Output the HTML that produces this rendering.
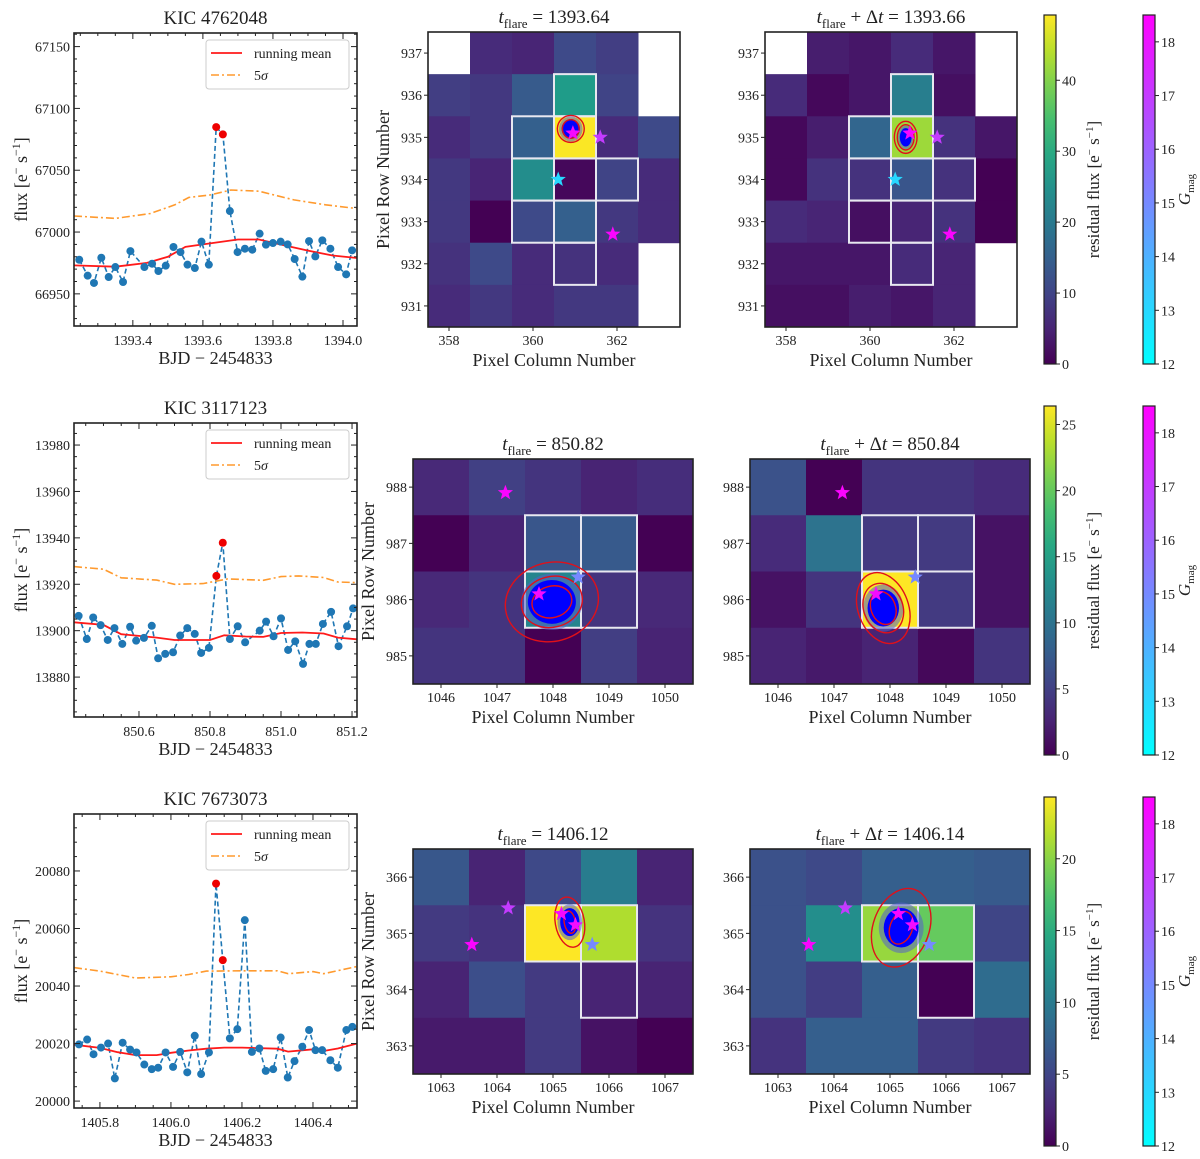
<!DOCTYPE html>
<html><head><meta charset="utf-8"><style>
html,body{margin:0;padding:0;background:#fff;}
svg{display:block;font-family:"Liberation Serif","DejaVu Serif",serif;}
</style></head><body>
<svg id="fig" width="1200" height="1159" viewBox="0 0 1200 1159" xmlns="http://www.w3.org/2000/svg"></svg>
<script>
// ---------- light curve data ----------
const lc1Time=[1393.247,1393.271,1393.289,1393.310,1393.331,1393.350,1393.372,1393.393,1393.433,1393.455,1393.473,1393.494,1393.516,1393.536,1393.556,1393.577,1393.596,1393.617,1393.638,1393.657,1393.677,1393.699,1393.720,1393.741,1393.762,1393.780,1393.800,1393.822,1393.842,1393.862,1393.884,1393.903,1393.921,1393.941,1393.964,1393.986,1394.009,1394.026];
const lc1Flux=[66977.6,66964.7,66958.8,66979.2,66963.6,66971.7,66959.6,66984.6,66971.7,66974.4,66968.5,66972.8,66987.9,66983.8,66973.6,66970.9,66992.2,66973.6,67084.9,67079.0,67017,66983.8,66986.5,66985.7,66998.7,66989.8,66991.1,66992.2,66990,66978.2,66963.9,66992.7,66980.3,66993.3,66986.5,66971.7,66965.8,66985.2];
const lc1Flare=[18,19];
const lc1MeanT=[1393.232,1393.35,1393.44,1393.5,1393.55,1393.6,1393.7,1393.76,1393.82,1393.9,1393.97,1394.04];
const lc1MeanV=[66973,66972,66975,66980,66988,66990,66994,66994,66990,66985,66981,66979];
const lc1SigT=[1393.232,1393.35,1393.45,1393.52,1393.56,1393.62,1393.68,1393.76,1393.86,1393.95,1394.04];
const lc1SigV=[67013,67011,67015,67022,67028,67030,67034,67033,67026,67022,67019];
const lc1XTicks=[1393.4,1393.6,1393.8,1394.0];
const lc1XLabels=["1393.4","1393.6","1393.8","1394.0"];
const lc1YTicks=[66950,67000,67050,67100,67150];

const lc2Time=[850.430,850.453,850.471,850.492,850.512,850.531,850.553,850.575,850.592,850.614,850.636,850.654,850.674,850.696,850.716,850.736,850.757,850.775,850.797,850.818,850.836,850.856,850.878,850.899,850.940,850.958,850.979,851.000,851.020,851.040,851.062,851.080,851.098,851.118,851.141,851.162,851.186,851.203];
const lc2Flux=[13906.4,13896.4,13905.7,13902.4,13896,13901.1,13894.3,13901.7,13895.7,13896.9,13902.1,13888.1,13890,13890.7,13897.9,13901.1,13898.6,13890.4,13892.6,13923.6,13937.9,13896.4,13901.9,13895,13900,13903.9,13897.6,13905.3,13891.7,13895.4,13885.7,13894.3,13894.3,13902.9,13908.1,13893.3,13901.9,13909.6];
const lc2Flare=[19,20];
const lc2MeanT=[850.417,850.5,850.55,850.65,850.7,850.8,850.84,850.9,850.95,851.0,851.06,851.12,851.16,851.214];
const lc2MeanV=[13903.6,13902.5,13898.5,13897,13896,13896,13898,13897.5,13897.3,13899,13899.2,13898.8,13897,13896.3];
const lc2SigT=[850.417,850.5,850.55,850.65,850.7,850.78,850.85,850.95,851.0,851.05,851.12,851.16,851.214];
const lc2SigV=[13927.6,13926.5,13922.8,13921.8,13920,13920.3,13922.3,13921.7,13923.3,13923.6,13922.9,13921,13920.7];
const lc2XTicks=[850.6,850.8,851.0,851.2];
const lc2XLabels=["850.6","850.8","851.0","851.2"];
const lc2YTicks=[13880,13900,13920,13940,13960,13980];

const lc3Time=[1405.741,1405.764,1405.782,1405.803,1405.823,1405.842,1405.864,1405.885,1405.903,1405.925,1405.946,1405.964,1405.985,1406.006,1406.026,1406.046,1406.067,1406.085,1406.107,1406.127,1406.146,1406.166,1406.187,1406.208,1406.228,1406.249,1406.267,1406.288,1406.309,1406.329,1406.348,1406.370,1406.389,1406.407,1406.426,1406.449,1406.470,1406.494,1406.511];
const lc3Flux=[20019.7,20021.4,20016.3,20018.6,20020.0,20007.9,20020.3,20017.9,20016.9,20012.7,20011.1,20011.6,20016.9,20011.9,20017.1,20010,20022.7,20009.4,20016.9,20075.6,20049,20021.8,20025,20062.9,20017.1,20018.3,20010.5,20011.1,20022.1,20008.2,20013.9,20018.9,20024.7,20017.7,20017.7,20014.2,20011.6,20024.7,20025.8];
const lc3Flare=[19,20];
const lc3MeanT=[1405.727,1405.8,1405.85,1405.9,1405.96,1406.0,1406.05,1406.1,1406.15,1406.2,1406.3,1406.33,1406.4,1406.43,1406.47,1406.524];
const lc3MeanV=[20019.6,20018.5,20017,20016,20016,20016.8,20017.6,20018.2,20018.6,20018.6,20018.2,20017.2,20018,20017.4,20018.3,20020];
const lc3SigT=[1405.727,1405.8,1405.9,1406.0,1406.05,1406.1,1406.2,1406.3,1406.33,1406.4,1406.43,1406.524];
const lc3SigV=[20046.4,20045.2,20042.8,20043.2,20044,20045.2,20045.3,20045.3,20044.3,20045,20044.3,20046.8];
const lc3XTicks=[1405.8,1406.0,1406.2,1406.4];
const lc3XLabels=["1405.8","1406.0","1406.2","1406.4"];
const lc3YTicks=[20000,20020,20040,20060,20080];

// ---------- pixel data (rows listed top to bottom) ----------
const hm1Cols=[358,359,360,361,362,363];
const hm1Rows=[937,936,935,934,933,932,931];
const hm1aValues=[[null,6,5,11,9,null],[9,8,14,27,10,null],[6,8,15,49,6,11],[8,5,24,1,10,6],[8,0,11,15,8,6],[7,11,6,7,6,null],[6,8,6,8,8,null]];
const hm1bValues=[[null,4,3,6,3,null],[6,1,3,21,2,null],[1,4,16,42,7,3],[1,7,7,13,7,0],[6,5,2,5,7,0],[3,3,3,6,5,null],[2,2,4,3,5,null]];
const hm1ApCols=[361,360,361,360,361,362,360,361,361];
const hm1ApRows=[936,935,935,934,934,934,933,933,932];
const hm1StarX=[360.95,361.6,360.6,361.9];
const hm1StarY=[935.1,935.0,934.0,932.7];
const hm1StarG=[18.3,17.0,13.0,18.4];
const hm1CbTicks=[0,10,20,30,40];

const hm2Cols=[1046,1047,1048,1049,1050];
const hm2Rows=[988,987,986,985];
const hm2aValues=[[3,5,4,2.6,3.4],[0,2.6,7,7.4,0],[3,4,12,4,3],[4,4,0,4.8,2.6]];
const hm2bValues=[[6.6,0,4,4,3.2],[3.2,10,4.5,4.5,1.3],[1.3,4,26.4,4.5,1.3],[2.6,1.8,2.6,0.5,4]];
const hm2ApCols=[1048,1049,1048,1049];
const hm2ApRows=[987,987,986,986];
const hm2StarX=[1047.15,1047.75,1048.45];
const hm2StarY=[987.9,986.1,986.4];
const hm2StarG=[18.4,18.2,15.0];
const hm2CbTicks=[0,5,10,15,20,25];

const hm3Cols=[1063,1064,1065,1066,1067];
const hm3Rows=[366,365,364,363];
const hm3aValues=[[6.6,2.4,5.3,10.2,2.4],[4.1,3.6,24.3,21.4,3.6],[2.4,5.8,4.1,2.4,2.4],[1.7,1.7,4.1,1.2,0]];
const hm3bValues=[[6,5.3,7.3,7.3,6.8],[6,12,20.5,18.5,5],[6,4.4,7.3,0,8.5],[3.6,7.3,7.3,4.1,3.6]];
const hm3ApCols=[1065,1066,1066];
const hm3ApRows=[365,365,364];
const hm3StarX=[1063.55,1064.2,1065.15,1065.4,1065.7];
const hm3StarY=[364.8,365.45,365.35,365.15,364.8];
const hm3StarG=[18.4,17.0,18.3,18.2,15.0];
const hm3CbTicks=[0,5,10,15,20];
const gmagTicks=[12,13,14,15,16,17,18];

// ---------- helpers ----------
const NS="http://www.w3.org/2000/svg";
const svg=document.getElementById('fig');
function mk(tag,attrs,name,parent){
  const e=document.createElementNS(NS,tag);
  for(const k in attrs)e.setAttribute(k,attrs[k]);
  
  
  (parent||svg).appendChild(e);return e;
}
function txt(x,y,s,size,anchor,name,parent,extra){
  const t=mk('text',Object.assign({x:x,y:y,'font-size':size,'text-anchor':anchor||'middle',fill:'#222'},extra||{}),name,parent);
  t.textContent=s;return t;
}
const VIR=[[68,1,84],[72,40,120],[62,74,137],[49,104,142],[38,130,142],[31,158,137],[53,183,121],[109,205,89],[180,222,44],[253,231,37]];
function viridis(f){f=Math.max(0,Math.min(1,f));const p=f*(VIR.length-1);const i=Math.min(VIR.length-2,Math.floor(p));const u=p-i;
  const c=VIR[i].map((v,k)=>Math.round(v+(VIR[i+1][k]-v)*u));return `rgb(${c[0]},${c[1]},${c[2]})`;}
function cool(g){const f=Math.max(0,Math.min(1,(g-12)/6.5));return `rgb(${Math.round(255*f)},${Math.round(255*(1-f))},255)`;}
function starPath(cx,cy,r){let d='';for(let k=0;k<10;k++){const a=-Math.PI/2+k*Math.PI/5;const rr=k%2?r*0.42:r;d+=(k?'L':'M')+(cx+rr*Math.cos(a)).toFixed(1)+','+(cy+rr*Math.sin(a)).toFixed(1);}return d+'Z';}

// ---------- light curve panel ----------
function drawLC(P,title,time,flux,flare,mT,mV,sT,sV,xT,xL,yT,xMin,yMin){
  const g=mk('g',{},'light-curve-panel');
  const X=v=>P.l+(v-P.x0)/(P.x1-P.x0)*(P.r-P.l);
  const Y=v=>P.b-(v-P.y0)/(P.y1-P.y0)*(P.b-P.t);
  const cp=mk('clipPath',{id:'c'+P.id},'clip',g);
  mk('rect',{x:P.l,y:P.t,width:P.r-P.l,height:P.b-P.t},'clip-rect',cp);
  const inner=mk('g',{'clip-path':`url(#c${P.id})`},'plot-area',g);
  const pts=time.map((t,i)=>X(t).toFixed(1)+','+Y(flux[i]).toFixed(1)).join(' ');
  mk('polyline',{points:pts,fill:'none',stroke:'#1f77b4','stroke-width':1.6,'stroke-dasharray':'5,3'},'flux-dashed-line',inner);
  mk('polyline',{points:mT.map((t,i)=>X(t).toFixed(1)+','+Y(mV[i]).toFixed(1)).join(' '),fill:'none',stroke:'#ff1a1a','stroke-width':1.8},'running-mean-line',inner);
  mk('polyline',{points:sT.map((t,i)=>X(t).toFixed(1)+','+Y(sV[i]).toFixed(1)).join(' '),fill:'none',stroke:'#ff9a2e','stroke-width':1.6,'stroke-dasharray':'8,3,2,3'},'five-sigma-line',inner);
  time.forEach((t,i)=>{
    const isF=flare.indexOf(i)>=0;
    const c=mk('circle',{cx:X(t),cy:Y(flux[i]),r:4,fill:isF?'#ee0000':'#1f77b4'},isF?'flare-point':'flux-point',inner);
  });
  // frame
  mk('rect',{x:P.l,y:P.t,width:P.r-P.l,height:P.b-P.t,fill:'none',stroke:'#222','stroke-width':1.6},'axes-frame',g);
  // ticks
  const tk=(x1,y1,x2,y2,nm)=>mk('line',{x1:x1,y1:y1,x2:x2,y2:y2,stroke:'#222','stroke-width':1},nm,g);
  for(let v=Math.ceil(P.x0/xMin)*xMin;v<=P.x1+1e-9;v+=xMin){const x=X(v);const maj=xT.some(m=>Math.abs(m-v)<1e-6);const L=maj?6:3;
    tk(x,P.b,x,P.b-L,'x-tick');tk(x,P.t,x,P.t+L,'x-tick-top');}
  for(let v=Math.ceil(P.y0/yMin)*yMin;v<=P.y1+1e-9;v+=yMin){const y=Y(v);const maj=yT.some(m=>Math.abs(m-v)<1e-6);const L=maj?6:3;
    tk(P.l,y,P.l+L,y,'y-tick');tk(P.r,y,P.r-L,y,'y-tick-right');}
  xT.forEach((v,i)=>txt(X(v),P.b+19,xL[i],14,'middle','x-tick-label',g));
  yT.forEach(v=>txt(P.l-4,Y(v)+5,String(v),14,'end','y-tick-label',g));
  txt((P.l+P.r)/2,P.b+38,'BJD − 2454833',18,'middle','x-axis-title',g);
  const yl=mk('text',{x:0,y:0,'font-size':18,'text-anchor':'middle',fill:'#222',transform:`translate(27,${(P.t+P.b)/2}) rotate(-90)`},'y-axis-title',g);
  yl.innerHTML='flux [e<tspan font-size="12" dy="-7">−</tspan><tspan dy="7"> s</tspan><tspan font-size="12" dy="-7">−1</tspan><tspan dy="7">]</tspan>';
  txt((P.l+P.r)/2,P.t-9,title,19,'middle','panel-title',g);
  // legend
  const lg=mk('g',{},'legend',g);
  mk('rect',{x:P.r-151,y:P.t+7,width:143,height:49,rx:3,fill:'#fff','fill-opacity':0.85,stroke:'#ccc'},'legend-box',lg);
  mk('line',{x1:P.r-146,y1:P.t+20,x2:P.r-115,y2:P.t+20,stroke:'#ff1a1a','stroke-width':1.8},'legend-mean-swatch',lg);
  txt(P.r-103,P.t+25,'running mean',14,'start','legend-mean-label',lg);
  mk('line',{x1:P.r-146,y1:P.t+42,x2:P.r-115,y2:P.t+42,stroke:'#ff9a2e','stroke-width':1.6,'stroke-dasharray':'8,3,2,3'},'legend-sigma-swatch',lg);
  const s5=txt(P.r-103,P.t+47,'5',14,'start','legend-sigma-label',lg);
  s5.innerHTML='5<tspan font-style="italic">σ</tspan>';
}

// ---------- pixel heatmap panel ----------
function drawHM(P,titleHTML,cols,rows,vals,vmax,apC,apR,sX,sY,sG,blob,showY){
  const g=mk('g',{},'pixel-map-panel');
  const nc=cols.length,nr=rows.length,cw=(P.r-P.l)/nc,rh=(P.b-P.t)/nr;
  const X=c=>P.l+(c-(cols[0]-0.5))*cw;
  const Y=r=>P.t+((rows[0]+0.5)-r)*rh;
  vals.forEach((row,i)=>row.forEach((v,j)=>{
    if(v===null)return;
    mk('rect',{x:X(cols[j]-0.5),y:Y(rows[i]+0.5),width:cw+0.5,height:rh+0.5,fill:viridis(v/vmax)},'pixel-cell',g);
  }));
  apC.forEach((c,i)=>mk('rect',{x:X(c-0.5),y:Y(apR[i]+0.5),width:cw,height:rh,fill:'none',stroke:'#e8e8f0','stroke-width':2},'aperture-pixel',g));
  // centroid scatter blob + contours
  const bx=X(blob.x),by=Y(blob.y);
  mk('ellipse',{cx:bx,cy:by,rx:blob.sx*cw,ry:blob.sy*rh,fill:'#5560c8','fill-opacity':0.55},'centroid-scatter-halo',g);
  mk('ellipse',{cx:bx,cy:by,rx:blob.sx*cw*0.78,ry:blob.sy*rh*0.78,fill:'#0000ff'},'centroid-scatter',g);
  blob.cont.forEach(e=>mk('ellipse',{cx:bx,cy:by,rx:e[0]*cw,ry:e[1]*rh,fill:'none',stroke:'#e0101a','stroke-width':1.4,transform:`rotate(${blob.rot} ${bx} ${by})`},'centroid-contour',g));
  sX.forEach((x,i)=>mk('path',{d:starPath(X(x),Y(sY[i]),8),fill:cool(sG[i])},'gaia-star',g));
  mk('rect',{x:P.l,y:P.t,width:P.r-P.l,height:P.b-P.t,fill:'none',stroke:'#222','stroke-width':1.6},'axes-frame',g);
  const step=nc>5?2:1;
  cols.forEach((c,j)=>{if(j%step)return;const x=X(c);mk('line',{x1:x,y1:P.b,x2:x,y2:P.b+4,stroke:'#222'},'x-tick',g);txt(x,P.b+18,String(c),14,'middle','x-tick-label',g);});
  rows.forEach(r=>{const y=Y(r);mk('line',{x1:P.l,y1:y,x2:P.l-4,y2:y,stroke:'#222'},'y-tick',g);txt(P.l-6,y+5,String(r),14,'end','y-tick-label',g);});
  txt((P.l+P.r)/2,P.b+39,'Pixel Column Number',18,'middle','x-axis-title',g);
  if(showY){const t=mk('text',{x:0,y:0,'font-size':18,'text-anchor':'middle',fill:'#222',transform:`translate(${P.l-39},${(P.t+P.b)/2}) rotate(-90)`},'y-axis-title',g);t.textContent='Pixel Row Number';}
  const tt=mk('text',{x:(P.l+P.r)/2,y:P.t-9,'font-size':19,'text-anchor':'middle',fill:'#222'},'panel-title',g);
  tt.innerHTML=titleHTML;
}
function drawCB(top,bot,vmax,ticks){
  const g=mk('g',{},'residual-colorbar');
  const x=1044,w=12;
  const id='vg'+top;
  const d=mk('defs',{},'defs',g);const lg=mk('linearGradient',{id:id,x1:0,y1:1,x2:0,y2:0},'gradient',d);
  for(let k=0;k<=10;k++)mk('stop',{offset:k/10,'stop-color':viridis(k/10)},'stop',lg);
  mk('rect',{x:x,y:top,width:w,height:bot-top,fill:`url(#${id})`,stroke:'#222','stroke-width':1.2},'colorbar-bar',g);
  ticks.forEach(v=>{const y=bot-v/vmax*(bot-top);mk('line',{x1:x+w,y1:y,x2:x+w+4,y2:y,stroke:'#222'},'colorbar-tick',g);txt(x+w+6,y+5,String(v),14,'start','colorbar-tick-label',g);});
  const t=mk('text',{x:0,y:0,'font-size':17,'text-anchor':'middle',fill:'#222',transform:`translate(1099,${(top+bot)/2}) rotate(-90)`},'colorbar-title',g);
  t.innerHTML='residual flux [e<tspan font-size="11" dy="-6">−</tspan><tspan dy="6"> s</tspan><tspan font-size="11" dy="-6">−1</tspan><tspan dy="6">]</tspan>';
  const g2=mk('g',{},'gmag-colorbar');
  const x2=1143;const id2='cg'+top;
  const d2=mk('defs',{},'defs',g2);const lg2=mk('linearGradient',{id:id2,x1:0,y1:1,x2:0,y2:0},'gradient',d2);
  mk('stop',{offset:0,'stop-color':'#00ffff'},'stop',lg2);mk('stop',{offset:1,'stop-color':'#ff00ff'},'stop',lg2);
  mk('rect',{x:x2,y:top,width:w,height:bot-top,fill:`url(#${id2})`,stroke:'#222','stroke-width':1.2},'colorbar-bar',g2);
  gmagTicks.forEach(v=>{const y=bot-(v-12)/6.5*(bot-top);mk('line',{x1:x2+w,y1:y,x2:x2+w+4,y2:y,stroke:'#222'},'colorbar-tick',g2);txt(x2+w+6,y+5,String(v),14,'start','colorbar-tick-label',g2);});
  const t2=mk('text',{x:0,y:0,'font-size':17,'text-anchor':'middle',fill:'#222',transform:`translate(1190,${(top+bot)/2}) rotate(-90)`},'gmag-title',g2);
  t2.innerHTML='<tspan font-style="italic">G</tspan><tspan font-size="11" dy="4">mag</tspan>';
}
const T1=v=>`<tspan font-style="italic">t</tspan><tspan font-size="13" dy="5">flare</tspan><tspan dy="-5"> = ${v}</tspan>`;
const T2=v=>`<tspan font-style="italic">t</tspan><tspan font-size="13" dy="5">flare</tspan><tspan dy="-5"> + Δ</tspan><tspan font-style="italic">t</tspan> = ${v}`;

// rows
drawLC({id:1,l:74,r:357,t:33,b:326,x0:1393.232,x1:1394.04,y0:66924,y1:67161},'KIC 4762048',lc1Time,lc1Flux,lc1Flare,lc1MeanT,lc1MeanV,lc1SigT,lc1SigV,lc1XTicks,lc1XLabels,lc1YTicks,0.05,10);
drawLC({id:2,l:74,r:357,t:423,b:717,x0:850.417,x1:851.214,y0:13862.8,y1:13989.5},'KIC 3117123',lc2Time,lc2Flux,lc2Flare,lc2MeanT,lc2MeanV,lc2SigT,lc2SigV,lc2XTicks,lc2XLabels,lc2YTicks,0.05,5);
drawLC({id:3,l:74,r:357,t:814,b:1108,x0:1405.727,x1:1406.524,y0:19997.6,y1:20099.8},'KIC 7673073',lc3Time,lc3Flux,lc3Flare,lc3MeanT,lc3MeanV,lc3SigT,lc3SigV,lc3XTicks,lc3XLabels,lc3YTicks,0.05,5);

drawHM({l:428,r:680,t:32,b:327},T1('1393.64'),hm1Cols,hm1Rows,hm1aValues,49.2,hm1ApCols,hm1ApRows,hm1StarX,hm1StarY,hm1StarG,{x:360.9,y:935.2,sx:0.28,sy:0.3,rot:0,cont:[[0.2,0.22],[0.32,0.32]]},true);
drawHM({l:765,r:1017,t:32,b:327},T2('1393.66'),hm1Cols,hm1Rows,hm1bValues,49.2,hm1ApCols,hm1ApRows,hm1StarX,hm1StarY,hm1StarG,{x:360.85,y:935.0,sx:0.18,sy:0.28,rot:0,cont:[[0.2,0.3],[0.27,0.38]]},false);
drawCB(15,364,49.2,hm1CbTicks);

drawHM({l:413,r:693,t:459,b:684},T1('850.82'),hm2Cols,hm2Rows,hm2aValues,26.4,hm2ApCols,hm2ApRows,hm2StarX,hm2StarY,hm2StarG,{x:1047.98,y:985.96,sx:0.55,sy:0.5,rot:-15,cont:[[0.36,0.28],[0.55,0.45],[0.84,0.7]]},true);
drawHM({l:750,r:1030,t:459,b:684},T2('850.84'),hm2Cols,hm2Rows,hm2bValues,26.4,hm2ApCols,hm2ApRows,hm2StarX,hm2StarY,hm2StarG,{x:1047.88,y:985.85,sx:0.36,sy:0.42,rot:-20,cont:[[0.22,0.3],[0.35,0.45],[0.45,0.65]]},false);
drawCB(406,755,26.4,hm2CbTicks);

drawHM({l:413,r:693,t:849,b:1074},T1('1406.12'),hm3Cols,hm3Rows,hm3aValues,24.3,hm3ApCols,hm3ApRows,hm3StarX,hm3StarY,hm3StarG,{x:1065.3,y:365.2,sx:0.22,sy:0.32,rot:-10,cont:[[0.1,0.2],[0.26,0.45]]},true);
drawHM({l:750,r:1030,t:849,b:1074},T2('1406.14'),hm3Cols,hm3Rows,hm3bValues,24.3,hm3ApCols,hm3ApRows,hm3StarX,hm3StarY,hm3StarG,{x:1065.2,y:365.1,sx:0.4,sy:0.45,rot:20,cont:[[0.2,0.3],[0.5,0.72]]},false);
drawCB(797,1146,24.3,hm3CbTicks);
</script>
</body></html>
